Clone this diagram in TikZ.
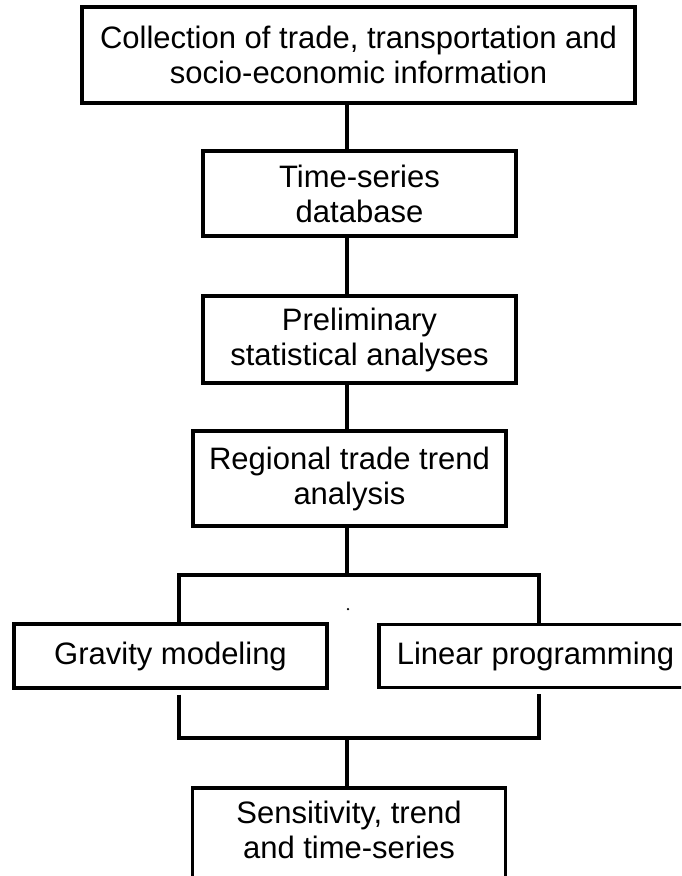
\documentclass[tikz,border=0pt]{standalone}
\usepackage{fontspec}
\setmainfont{Liberation Sans}
\tikzset{
    stage/.style={draw, line width=3.2pt, align=center, inner sep=2pt,
        minimum width=313pt, minimum height=85pt,
        font=\fontsize{31}{35}\selectfont},
    link/.style={line width=3.2pt}
}
\begin{document}
\begin{tikzpicture}[x=1pt, y=-1pt]
    \useasboundingbox (0,0) rectangle (681,876);
    \clip (0,0) rectangle (681,876);
    % reference points for the connectors
    \coordinate (spine) at (347,0);
    \coordinate (leftarm) at (179,0);
    \coordinate (rightarm) at (539,0);
    \coordinate (split) at (347,575);
    \coordinate (join) at (347,738);
    % stages
    \node [stage, minimum width=553pt, minimum height=96pt] (collect) at (358.5,55)
        {Collection of trade, transportation and\\socio-economic information};
    \node [stage] (tsdb) at (359.5,193.5) {Time-series\\database};
    \node [stage, minimum height=87pt] (prelim) at (359.5,339.5) {Preliminary\\statistical analyses};
    \node [stage, minimum height=95pt] (regional) at (349.5,478.5) {Regional trade trend\\analysis};
    \node [stage, minimum height=64pt] (gravity) at (170.5,656) {Gravity modeling};
    \node [stage, minimum height=63pt] (linear) at (535.5,656) {Linear programming};
    \node [stage, minimum height=95pt, text depth=12pt] (sensitivity) at (349,835.5)
        {Sensitivity, trend\\and time-series};
    \node [circle, fill, inner sep=0pt, minimum size=2.5pt] (dot) at (348,609) {};
    % connectors
    \draw [link] (collect.south -| spine) -- (tsdb.north -| spine);
    \draw [link] (tsdb.south -| spine) -- (prelim.north -| spine);
    \draw [link] (prelim.south -| spine) -- (regional.north -| spine);
    \draw [link] (regional.south -| spine) -- (split);
    \draw [link] (gravity.north -| leftarm) -- (leftarm |- split) -- (rightarm |- split) -- (linear.north -| rightarm);
    \draw [link] ([yshift=-5pt]gravity.south -| leftarm) -- (leftarm |- join) -- (rightarm |- join) -- ([yshift=-5pt]linear.south -| rightarm);
    \draw [link] (join) -- (sensitivity.north -| spine);
\end{tikzpicture}
\end{document}
